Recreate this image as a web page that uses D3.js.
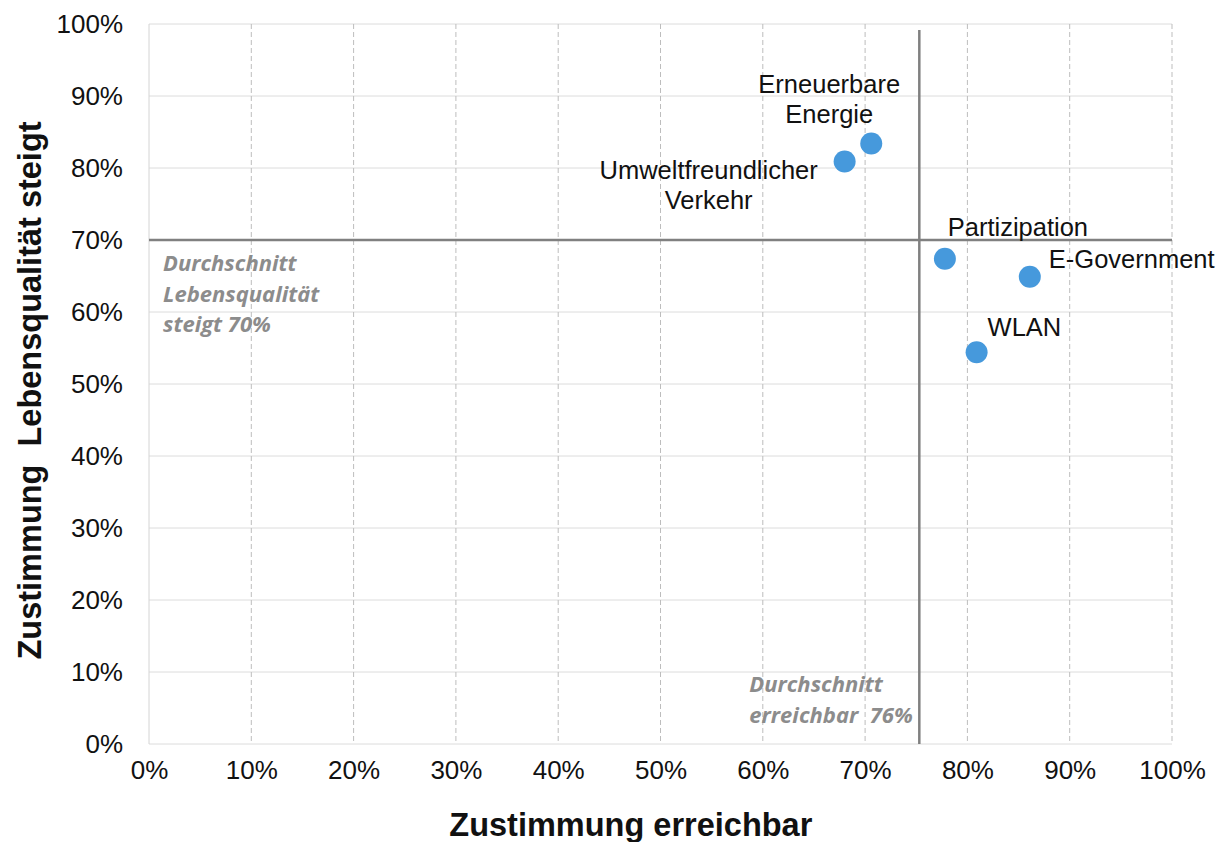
<!DOCTYPE html>
<html>
<head>
<meta charset="utf-8">
<script src="https://cdn.jsdelivr.net/npm/d3@7"></script>
<style>
  body { margin: 0; background: #fff; }
  svg { display: block; }
</style>
</head>
<body>
<div id="chart"></div>
<script>
// Daten
const names = ["Umweltfreundlicher Verkehr", "Erneuerbare Energie", "Partizipation", "E-Government", "WLAN"];
const erreichbar = [0.680, 0.706, 0.778, 0.861, 0.809];
const lebensqualitaet = [0.809, 0.834, 0.674, 0.649, 0.544];
const tickValues = [0, 0.1, 0.2, 0.3, 0.4, 0.5, 0.6, 0.7, 0.8, 0.9, 1.0];
const avgErreichbar = 0.753;
const avgLebensqualitaet = 0.70;

const width = 1227, height = 842;
const margin = { top: 24, right: 55, bottom: 98, left: 149 };
const innerW = width - margin.left - margin.right;
const innerH = height - margin.top - margin.bottom;

const svg = d3.select("#chart").append("svg")
  .attr("width", width)
  .attr("height", height);

const g = svg.append("g").attr("transform", `translate(${margin.left},${margin.top})`);

const x = d3.scaleLinear().domain([0, 1]).range([0, innerW]);
const y = d3.scaleLinear().domain([0, 1]).range([innerH, 0]);
const pct = d3.format(".0%");

// Gitternetz
g.append("g")
  .selectAll("line")
  .data(tickValues)
  .join("line")
  .attr("x1", 0).attr("x2", innerW)
  .attr("y1", d => y(d)).attr("y2", d => y(d))
  .attr("stroke", "#dcdcdc")
  .attr("stroke-width", 1);

g.append("g")
  .selectAll("line")
  .data(tickValues)
  .join("line")
  .attr("x1", d => x(d)).attr("x2", d => x(d))
  .attr("y1", 0).attr("y2", innerH)
  .attr("stroke", d => d === 0 ? "#d4d4d4" : "#bdbdbd")
  .attr("stroke-width", 1)
  .attr("stroke-dasharray", d => d === 0 ? null : "5,3");

// Achsen
const xAxis = g.append("g")
  .attr("transform", `translate(0,${innerH})`)
  .call(d3.axisBottom(x).tickValues(tickValues).tickFormat(pct).tickSize(0).tickPadding(17));
xAxis.select(".domain").remove();
xAxis.selectAll("text")
  .style("font-family", "Liberation Sans, Arial, sans-serif")
  .style("font-size", "26px")
  .attr("fill", "#111");

const yAxis = g.append("g")
  .call(d3.axisLeft(y).tickValues(tickValues).tickFormat(pct).tickSize(0).tickPadding(26));
yAxis.select(".domain").remove();
yAxis.selectAll("text")
  .style("font-family", "Liberation Sans, Arial, sans-serif")
  .style("font-size", "26px")
  .attr("fill", "#111");

// Durchschnittslinien
g.append("line")
  .attr("x1", 0).attr("x2", innerW)
  .attr("y1", y(avgLebensqualitaet)).attr("y2", y(avgLebensqualitaet))
  .attr("stroke", "#808080").attr("stroke-width", 2.5);

g.append("line")
  .attr("x1", x(avgErreichbar)).attr("x2", x(avgErreichbar))
  .attr("y1", 6).attr("y2", innerH)
  .attr("stroke", "#808080").attr("stroke-width", 2.5);

const avgStyle = sel => sel
  .style("font-family", "Open Sans, sans-serif")
  .style("font-size", "22px")
  .style("font-weight", "bold")
  .style("font-style", "italic")
  .attr("fill", "#8c8c8c");

const avgY = g.append("text").call(avgStyle)
  .attr("x", 14)
  .attr("y", y(avgLebensqualitaet) + 31);
["Durchschnitt", "Lebensqualität", "steigt " + pct(avgLebensqualitaet)].forEach((t, i) => {
  avgY.append("tspan").attr("x", 14).attr("dy", i === 0 ? 0 : 30.5).text(t);
});

const avgX = g.append("text").call(avgStyle)
  .attr("x", x(avgErreichbar) - 170)
  .attr("y", innerH - 52);
["Durchschnitt", "erreichbar  76%"].forEach((t, i) => {
  avgX.append("tspan").attr("x", x(avgErreichbar) - 170).attr("dy", i === 0 ? 0 : 31)
    .style("white-space", "pre").attr("xml:space", "preserve").text(t);
});

// Punkte
const points = names.map((n, i) => ({ name: n, x: erreichbar[i], y: lebensqualitaet[i] }));

g.append("g")
  .selectAll("circle")
  .data(points)
  .join("circle")
  .attr("cx", d => x(d.x))
  .attr("cy", d => y(d.y))
  .attr("r", 11)
  .attr("fill", "#4699dc");

// Beschriftungen (Position relativ zum Punkt)
const labelPos = {
  "Umweltfreundlicher Verkehr": { dx: -136, dy: 17, anchor: "middle", lines: ["Umweltfreundlicher", "Verkehr"] },
  "Erneuerbare Energie": { dx: -42, dy: -51, anchor: "middle", lines: ["Erneuerbare", "Energie"] },
  "Partizipation": { dx: 73, dy: -23, anchor: "middle", lines: ["Partizipation"] },
  "E-Government": { dx: 19, dy: -9, anchor: "start", lines: ["E-Government"] },
  "WLAN": { dx: 11, dy: -16, anchor: "start", lines: ["WLAN"] }
};

points.forEach(d => {
  const p = labelPos[d.name];
  const t = g.append("text")
    .attr("text-anchor", p.anchor)
    .style("font-family", "Liberation Sans, Arial, sans-serif")
    .style("font-size", "25.5px")
    .attr("fill", "#111")
    .attr("x", x(d.x) + p.dx)
    .attr("y", y(d.y) + p.dy);
  p.lines.forEach((l, i) => {
    t.append("tspan").attr("x", x(d.x) + p.dx).attr("dy", i === 0 ? 0 : 30).text(l);
  });
});

// Achsentitel
svg.append("text")
  .attr("x", margin.left + x(0.471))
  .attr("y", 836)
  .attr("text-anchor", "middle")
  .style("font-family", "Liberation Sans, Arial, sans-serif")
  .style("font-size", "32.5px")
  .style("font-weight", "bold")
  .attr("fill", "#111")
  .text("Zustimmung erreichbar");

svg.append("text")
  .attr("transform", `translate(41,${margin.top + y(0.491)}) rotate(-90)`)
  .attr("text-anchor", "middle")
  .attr("xml:space", "preserve")
  .style("white-space", "pre")
  .style("font-family", "Liberation Sans, Arial, sans-serif")
  .style("font-size", "32.5px")
  .style("font-weight", "bold")
  .attr("fill", "#111")
  .text("Zustimmung  Lebensqualität steigt");
</script>
</body>
</html>
